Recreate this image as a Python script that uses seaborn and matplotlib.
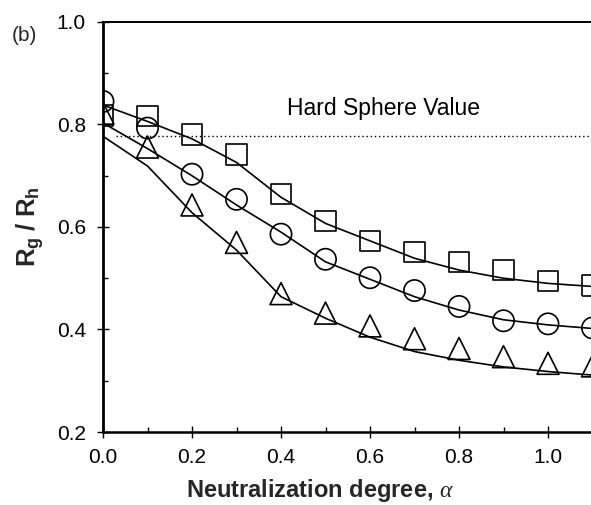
import numpy as np
import pandas as pd
import matplotlib
matplotlib.use("Agg")
import matplotlib.pyplot as plt
import seaborn as sns
from matplotlib.ticker import MultipleLocator

# ---- data ----
alpha = [0.0, 0.1, 0.2, 0.3, 0.4, 0.5, 0.6, 0.7, 0.8, 0.9, 1.0, 1.1]
squares = [0.818, 0.817, 0.780, 0.742, 0.664, 0.612, 0.573, 0.551, 0.532, 0.516, 0.495, 0.486]
circles = [0.845, 0.793, 0.703, 0.654, 0.586, 0.537, 0.501, 0.476, 0.445, 0.417, 0.411, 0.403]
triangles = [0.822, 0.756, 0.643, 0.570, 0.470, 0.432, 0.407, 0.382, 0.363, 0.347, 0.334, 0.329]

fit_squares = [0.838, 0.806, 0.772, 0.726, 0.658, 0.607, 0.573, 0.539, 0.516, 0.500, 0.490, 0.484]
fit_circles = [0.803, 0.753, 0.700, 0.643, 0.590, 0.532, 0.498, 0.464, 0.438, 0.419, 0.409, 0.402]
fit_triangles = [0.777, 0.719, 0.628, 0.555, 0.464, 0.422, 0.385, 0.357, 0.340, 0.327, 0.318, 0.311]

hard_sphere = 0.778
hs_x = [0.03, 1.1]

sns.set_theme(style="ticks")
plt.rcParams["font.family"] = ["Liberation Sans", "DejaVu Sans"]
plt.rcParams["mathtext.fontset"] = "custom"
plt.rcParams["mathtext.rm"] = "Liberation Sans"
plt.rcParams["mathtext.bf"] = "Liberation Sans:bold"
plt.rcParams["mathtext.it"] = "Liberation Serif:italic"

fig = plt.figure(figsize=(5.91, 5.05), dpi=100)
ax = fig.add_axes([103 / 591, 73 / 505, 489.5 / 591, 410 / 505])

# fitted curves
for fit in (fit_squares, fit_circles, fit_triangles):
    sns.lineplot(x=alpha, y=fit, ax=ax, color="black", linewidth=1.2,
                 sort=False, estimator=None)

# hard sphere dotted line
sns.lineplot(x=hs_x, y=[hard_sphere, hard_sphere], ax=ax, color="black",
             linewidth=1.0, linestyle=(0, (1, 2)), sort=False, estimator=None)

# data markers
for vals, mk, ms in ((squares, "s", 14.8), (circles, "o", 15.3), (triangles, "^", 15.8)):
    sns.scatterplot(x=alpha, y=vals, ax=ax, marker=mk, s=ms ** 2,
                    facecolor="none", edgecolor="black", linewidth=1.2, zorder=3)

ax.set_xlim(0, 1.1)
ax.set_ylim(0.2, 1.0)
ax.xaxis.set_minor_locator(MultipleLocator(0.1))
ax.yaxis.set_minor_locator(MultipleLocator(0.1))
ax.set_xticks([0.0, 0.2, 0.4, 0.6, 0.8, 1.0])
ax.set_xticklabels(["0.0", "0.2", "0.4", "0.6", "0.8", "1.0"])
ax.set_yticks([0.2, 0.4, 0.6, 0.8, 1.0])
ax.set_yticklabels(["0.2", "0.4", "0.6", "0.8", "1.0"])

ax.tick_params(which="major", direction="inout", length=8.6, width=1.0,
               labelsize=15, color="black", labelcolor="black")
ax.tick_params(axis="y", which="major", pad=8)
ax.tick_params(axis="x", which="major", pad=7)
ax.tick_params(which="minor", direction="in", length=3.6, width=1.0, color="black")

ax.spines["right"].set_visible(False)
ax.spines["left"].set_linewidth(2.0)
ax.spines["bottom"].set_linewidth(1.8)
ax.spines["top"].set_linewidth(1.4)
for s in ("left", "bottom", "top"):
    ax.spines[s].set_color("black")

ax.set_xlabel(r"Neutralization degree, $\alpha$", fontsize=17, fontweight="bold")
ax.xaxis.set_label_coords(0.443, -0.110)
ax.xaxis.label.set_va("top")
ax.set_ylabel(r"$\mathbf{R_g\ /\ R_h}$", fontsize=18.5)
ax.yaxis.set_label_coords(-0.117, 0.5)

ax.text(0.413, 0.8185, "Hard Sphere Value", fontsize=16.5, ha="left",
        va="baseline", color="black")
fig.text(12 / 591, 1 - 35 / 505, "(b)", fontsize=15, ha="left", va="center")

fig.savefig("out.png", dpi=100)
